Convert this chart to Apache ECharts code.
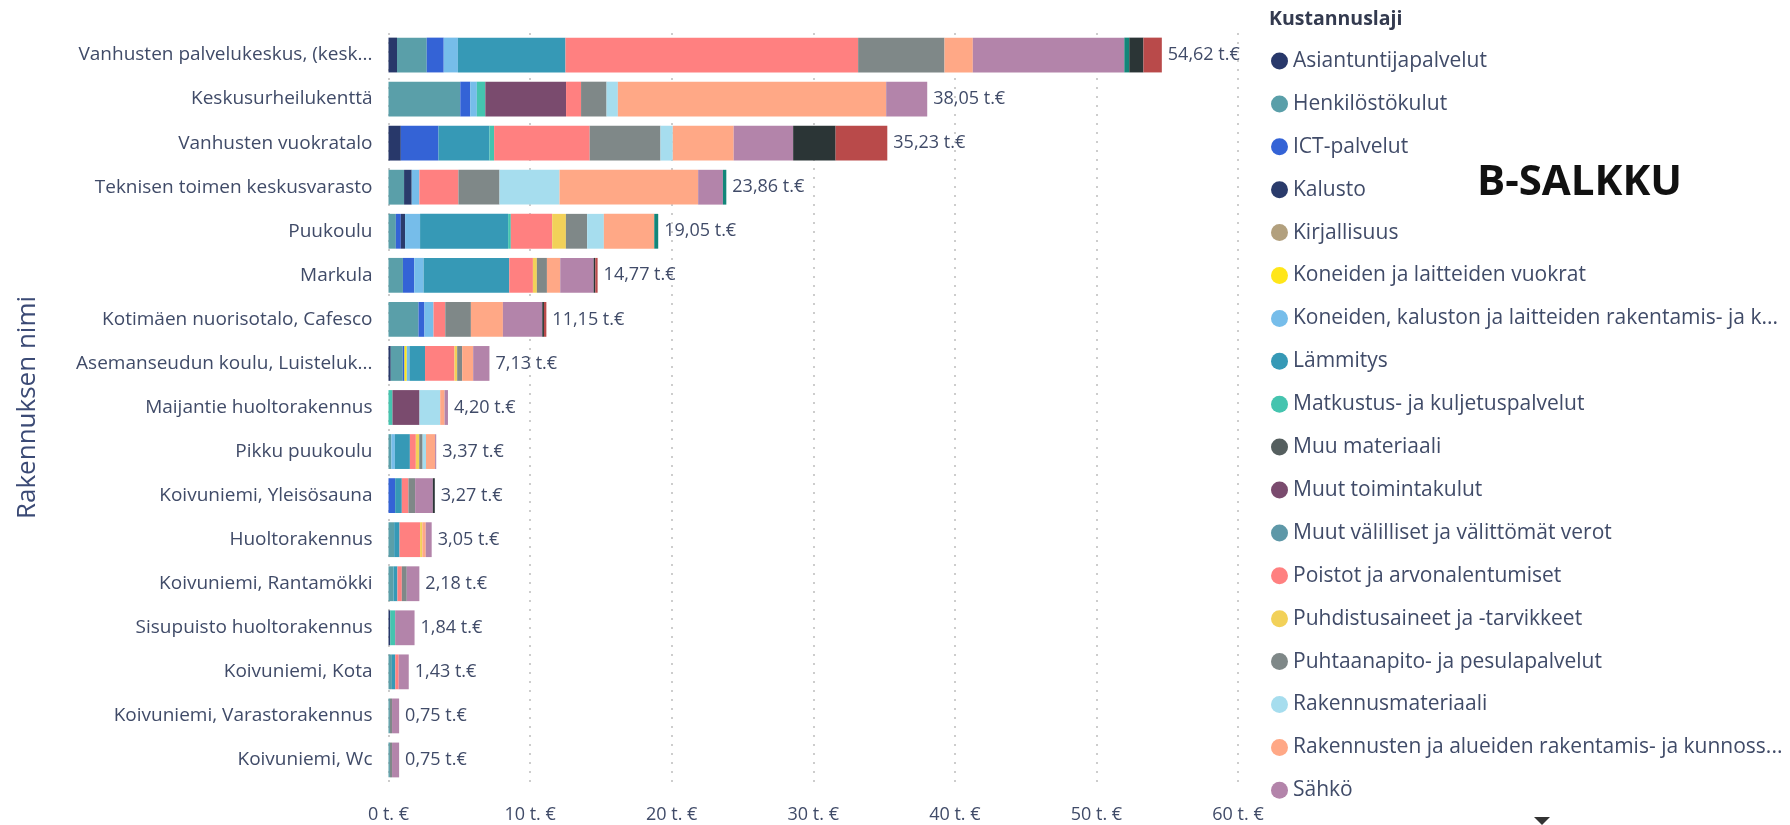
<!DOCTYPE html>
<html>
<head>
<meta charset="utf-8">
<script src="https://cdn.jsdelivr.net/npm/echarts@6/dist/echarts.min.js"></script>
<style>
html,body{margin:0;padding:0;background:#fff;}
#c{width:1790px;height:825px;}
</style>
</head>
<body>
<div id="c"></div>
<script>
const categories = [
  'Vanhusten palvelukeskus, (kesk...',
  'Keskusurheilukenttä',
  'Vanhusten vuokratalo',
  'Teknisen toimen keskusvarasto',
  'Puukoulu',
  'Markula',
  'Kotimäen nuorisotalo, Cafesco',
  'Asemanseudun koulu, Luisteluk...',
  'Maijantie huoltorakennus',
  'Pikku puukoulu',
  'Koivuniemi, Yleisösauna',
  'Huoltorakennus',
  'Koivuniemi, Rantamökki',
  'Sisupuisto huoltorakennus',
  'Koivuniemi, Kota',
  'Koivuniemi, Varastorakennus',
  'Koivuniemi, Wc'
];
const totals = [54.62, 38.05, 35.23, 23.86, 19.05, 14.77, 11.15, 7.13, 4.20, 3.37, 3.27, 3.05, 2.18, 1.84, 1.43, 0.75, 0.75];
const xTicks = [0, 10, 20, 30, 40, 50, 60];

const seriesNames = [
  'Asiantuntijapalvelut',
  'Henkilöstökulut',
  'ICT-palvelut',
  'Kalusto',
  'Kirjallisuus',
  'Koneiden ja laitteiden vuokrat',
  'Koneiden, kaluston ja laitteiden rakentamis- ja kunnossapitopalvelut',
  'Lämmitys',
  'Matkustus- ja kuljetuspalvelut',
  'Muu materiaali',
  'Muut toimintakulut',
  'Muut välilliset ja välittömät verot',
  'Poistot ja arvonalentumiset',
  'Puhdistusaineet ja -tarvikkeet',
  'Puhtaanapito- ja pesulapalvelut',
  'Rakennusmateriaali',
  'Rakennusten ja alueiden rakentamis- ja kunnossapitopalvelut',
  'Sähkö',
  'Tarvikkeet',
  'Vesi ja jätevesi',
  'Vuokrat'
];
// Legend entries as shown (the legend is clipped to its first 18 entries)
const legendShown = {
  'Koneiden, kaluston ja laitteiden rakentamis- ja kunnossapitopalvelut': 'Koneiden, kaluston ja laitteiden rakentamis- ja k...',
  'Rakennusten ja alueiden rakentamis- ja kunnossapitopalvelut': 'Rakennusten ja alueiden rakentamis- ja kunnoss...'
};

const asiantuntija   = [0.6, 0, 0.87, 0, 0, 0, 0, 0.16, 0, 0, 0, 0, 0, 0.12, 0, 0, 0];
const henkilosto     = [2.1, 5.07, 0, 1.1, 0.52, 1.02, 2.12, 0.85, 0, 0.2, 0, 0.4, 0.35, 0, 0.24, 0.1, 0.1];
const ict            = [1.2, 0.7, 2.66, 0, 0.35, 0.8, 0.42, 0.12, 0, 0, 0.47, 0, 0, 0, 0, 0, 0];
const kalusto        = [0, 0, 0, 0.54, 0.3, 0, 0, 0, 0, 0, 0, 0, 0, 0, 0, 0, 0];
const kirjallisuus   = [0, 0, 0, 0, 0, 0, 0, 0, 0, 0, 0, 0, 0, 0, 0, 0, 0];
const konVuokrat     = [0, 0, 0, 0, 0, 0, 0, 0.16, 0, 0, 0, 0, 0, 0, 0, 0, 0];
const konKunnossa    = [1.0, 0.47, 0, 0.54, 1.06, 0.66, 0.64, 0.19, 0, 0.25, 0, 0, 0, 0, 0, 0, 0];
const lammitys       = [7.6, 0, 3.6, 0, 6.22, 6.05, 0, 1.1, 0, 1.06, 0.47, 0.38, 0.28, 0, 0.24, 0, 0];
const matkustus      = [0, 0.6, 0.33, 0, 0.19, 0, 0, 0, 0.28, 0, 0, 0, 0, 0.35, 0, 0, 0];
const muuMateriaali  = [0, 0, 0, 0, 0, 0, 0, 0, 0, 0, 0, 0, 0, 0, 0, 0, 0];
const muutToiminta   = [0, 5.7, 0, 0, 0, 0, 0, 0, 1.91, 0, 0, 0, 0, 0, 0, 0, 0];
const muutVerot      = [0, 0, 0, 0, 0, 0, 0, 0, 0, 0, 0, 0, 0, 0, 0, 0, 0];
const poistot        = [20.67, 1.06, 6.75, 2.76, 2.92, 1.67, 0.83, 2.08, 0, 0.42, 0.47, 1.45, 0.31, 0, 0.24, 0, 0];
const puhdistus      = [0, 0, 0, 0, 0.97, 0.28, 0, 0.19, 0, 0.24, 0, 0.16, 0, 0, 0, 0, 0];
const puhtaanapito   = [6.1, 1.8, 5.0, 2.9, 1.5, 0.71, 1.81, 0.35, 0, 0.24, 0.47, 0, 0.35, 0, 0, 0.15, 0.15];
const rakMateriaali  = [0, 0.8, 0.87, 4.24, 1.18, 0, 0, 0, 1.46, 0.24, 0, 0, 0, 0, 0, 0, 0];
const rakKunnossa    = [2.0, 18.95, 4.3, 9.79, 3.56, 0.94, 2.26, 0.78, 0.31, 0.64, 0, 0.24, 0, 0, 0, 0, 0];
const sahko          = [10.7, 2.9, 4.2, 1.75, 0, 2.36, 2.78, 1.15, 0.24, 0.08, 1.25, 0.42, 0.89, 1.37, 0.71, 0.5, 0.5];
const tarvikkeet     = [0.35, 0, 0, 0.24, 0.28, 0, 0, 0, 0, 0, 0, 0, 0, 0, 0, 0, 0];
const vesi           = [1.0, 0, 3.0, 0, 0, 0.12, 0.12, 0, 0, 0, 0.14, 0, 0, 0, 0, 0, 0];
const vuokrat        = [1.3, 0, 3.65, 0, 0, 0.16, 0.17, 0, 0, 0, 0, 0, 0, 0, 0, 0, 0];

const seriesData = [asiantuntija, henkilosto, ict, kalusto, kirjallisuus, konVuokrat, konKunnossa,
  lammitys, matkustus, muuMateriaali, muutToiminta, muutVerot, poistot, puhdistus, puhtaanapito,
  rakMateriaali, rakKunnossa, sahko, tarvikkeet, vesi, vuokrat];

const colors = ['#28386A', '#5A9FA9', '#3463D6', '#2A3B6B', '#B2A07E', '#FFE619', '#76BDEA',
  '#3699B6', '#45C4AF', '#555F5F', '#7A4B6E', '#5E98A8', '#FF8080', '#F2D159', '#7F8888',
  '#A6DDEE', '#FFA886', '#B384AA', '#138679', '#2B3536', '#B94A4A'];

const FONT = 'Open Sans';
const TXT = '#404B68';

const series = seriesNames.map((n, i) => ({
  name: n,
  type: 'bar',
  stack: 'total',
  barCategoryGap: '21%',
  data: seriesData[i],
  itemStyle: { color: colors[i] },
  emphasis: { disabled: true }
}));
series.push({
  name: 'Yhteensä',
  type: 'bar',
  stack: 'total',
  data: totals.map(() => 0),
  itemStyle: { color: 'transparent' },
  label: {
    show: true,
    position: 'right',
    distance: 6,
    fontFamily: FONT,
    fontSize: 18,
    color: TXT,
    formatter: p => totals[p.dataIndex].toFixed(2).replace('.', ',') + ' t.€'
  }
});

const chart = echarts.init(document.getElementById('c'), null, { renderer: 'canvas' });
chart.setOption({
  animation: false,
  backgroundColor: '#ffffff',
  color: colors,
  grid: { left: 388.5, width: 849.5, top: 33, bottom: 43, containLabel: false },
  xAxis: {
    type: 'value',
    min: xTicks[0],
    max: xTicks[xTicks.length - 1],
    interval: 10,
    axisLine: { show: false },
    axisTick: { show: false },
    splitLine: { show: true, lineStyle: { type: [2, 7], color: '#BDBDBD', width: 1.5 } },
    axisLabel: { fontFamily: FONT, fontSize: 18, color: TXT, margin: 24, formatter: v => v + ' t. €' }
  },
  yAxis: {
    type: 'category',
    data: categories,
    inverse: true,
    axisLine: { show: false },
    axisTick: { show: false },
    axisLabel: { fontFamily: FONT, fontSize: 19, color: TXT, margin: 16 },
    name: 'Rakennuksen nimi',
    nameLocation: 'middle',
    nameRotate: 90,
    nameGap: 348,
    nameTextStyle: { fontFamily: FONT, fontSize: 26, color: '#3B4A75' }
  },
  legend: {
    data: seriesNames.slice(0, 18),
    orient: 'vertical',
    left: 1271,
    top: 50.5,
    padding: 0,
    icon: 'circle',
    itemWidth: 17,
    itemHeight: 17,
    itemGap: 21.9,
    formatter: name => legendShown[name] || name,
    textStyle: { fontFamily: FONT, fontSize: 21, color: TXT }
  },
  graphic: [
    { type: 'text', left: 1269, top: 9, style: { text: 'Kustannuslaji', font: 'bold 19.5px "Open Sans"', fill: '#333a4f' } },
    { type: 'text', left: 1477, top: 162, style: { text: 'B-SALKKU', font: 'bold 42px "Open Sans"', fill: '#111' } },
    { type: 'polygon', shape: { points: [[1534, 817], [1550, 817], [1542, 825]] }, style: { fill: '#333' } }
  ],
  series: series
});
</script>
</body>
</html>
